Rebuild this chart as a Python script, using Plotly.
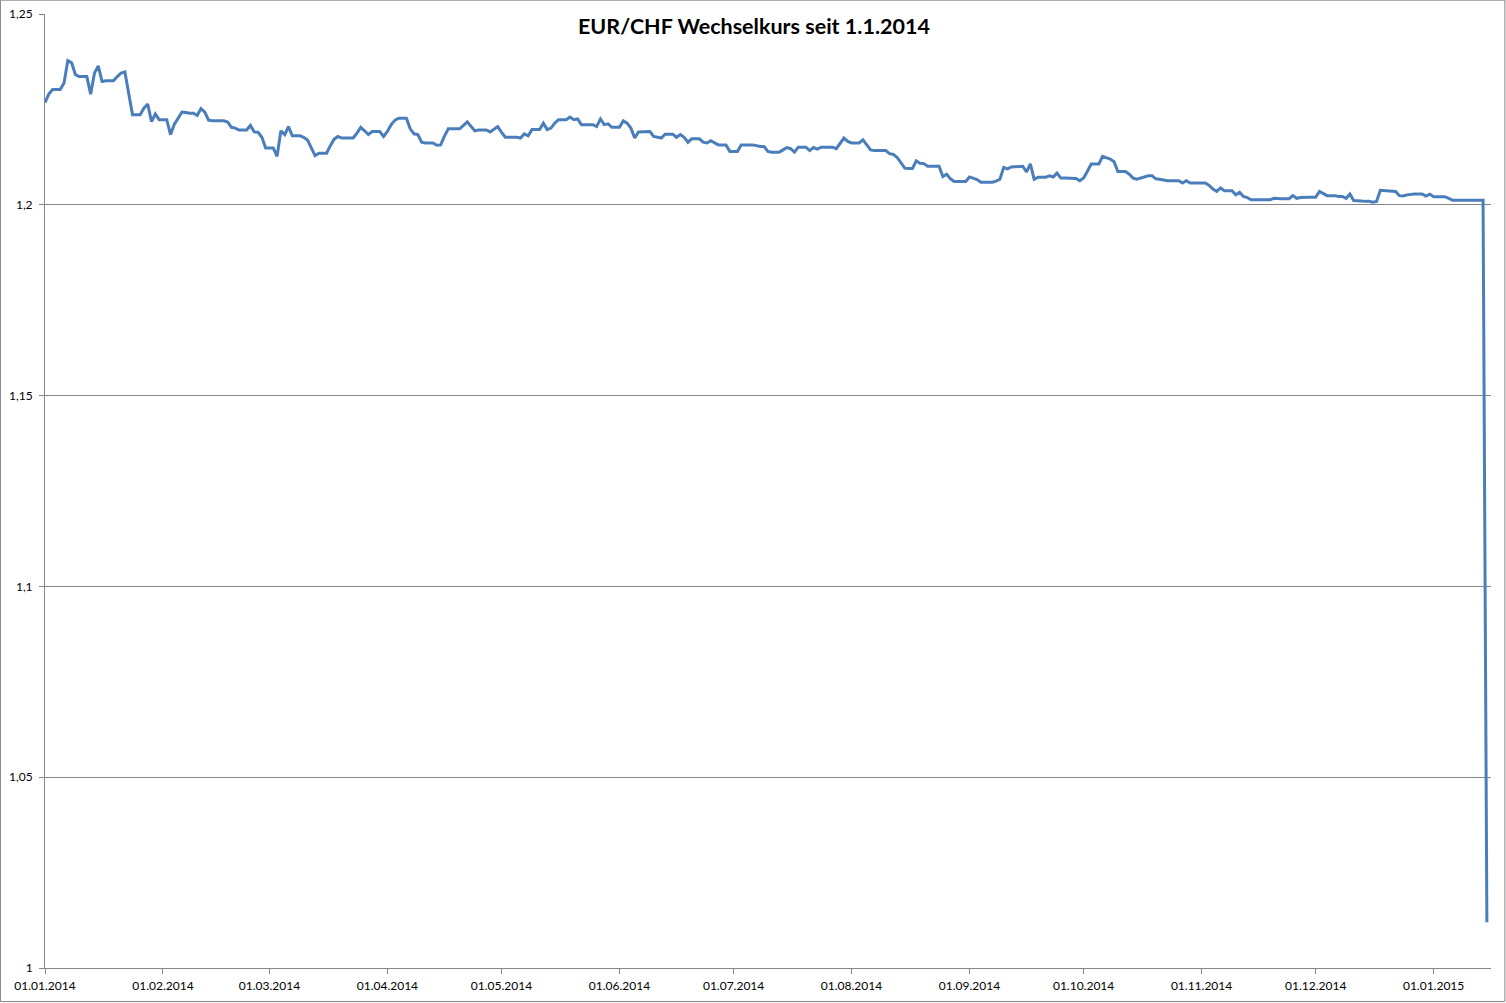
import pandas as pd
import plotly.graph_objects as go

title_text = "EUR/CHF Wechselkurs seit 1.1.2014"
start_date = "2014-01-01"

# daily EUR/CHF values from 01.01.2014 to 15.01.2015
eurchf = [
    1.2268, 1.2290, 1.2302, 1.2302, 1.2302, 1.2319, 1.2378, 1.2372, 1.2341, 1.2336,
    1.2336, 1.2336, 1.2290, 1.2345, 1.2364, 1.2323, 1.2325, 1.2325, 1.2325, 1.2336,
    1.2345, 1.2348, 1.2292, 1.2236, 1.2236, 1.2236, 1.2253, 1.2264, 1.2218, 1.2238,
    1.2223, 1.2223, 1.2223, 1.2184, 1.2211, 1.2227, 1.2243, 1.2242, 1.2240, 1.2240,
    1.2234, 1.2252, 1.2243, 1.2222, 1.2220, 1.2220, 1.2220, 1.2220, 1.2217, 1.2203,
    1.2201, 1.2196, 1.2196, 1.2196, 1.2208, 1.2191, 1.2190, 1.2177, 1.2149, 1.2149,
    1.2149, 1.2127, 1.2194, 1.2184, 1.2205, 1.2181, 1.2181, 1.2181, 1.2177, 1.2170,
    1.2149, 1.2129, 1.2135, 1.2135, 1.2135, 1.2155, 1.2172, 1.2179, 1.2175, 1.2175,
    1.2175, 1.2175, 1.2188, 1.2203, 1.2194, 1.2184, 1.2192, 1.2192, 1.2192, 1.2179,
    1.2192, 1.2210, 1.2222, 1.2227, 1.2227, 1.2227, 1.2199, 1.2186, 1.2184, 1.2164,
    1.2162, 1.2162, 1.2162, 1.2156, 1.2157, 1.2180, 1.2199, 1.2199, 1.2199, 1.2199,
    1.2208, 1.2217, 1.2205, 1.2194, 1.2196, 1.2196, 1.2196, 1.2191, 1.2198, 1.2205,
    1.2190, 1.2177, 1.2177, 1.2177, 1.2177, 1.2175, 1.2186, 1.2181, 1.2197, 1.2197,
    1.2197, 1.2214, 1.2197, 1.2201, 1.2214, 1.2223, 1.2223, 1.2223, 1.2230, 1.2223,
    1.2225, 1.2210, 1.2210, 1.2210, 1.2210, 1.2205, 1.2225, 1.2210, 1.2212, 1.2203,
    1.2203, 1.2203, 1.2220, 1.2214, 1.2201, 1.2175, 1.2191, 1.2191, 1.2191, 1.2192,
    1.2179, 1.2177, 1.2175, 1.2185, 1.2185, 1.2185, 1.2177, 1.2184, 1.2177, 1.2164,
    1.2173, 1.2173, 1.2173, 1.2164, 1.2162, 1.2168, 1.2162, 1.2157, 1.2157, 1.2157,
    1.2140, 1.2140, 1.2140, 1.2157, 1.2157, 1.2157, 1.2157, 1.2155, 1.2153, 1.2153,
    1.2140, 1.2138, 1.2138, 1.2138, 1.2144, 1.2150, 1.2147, 1.2138, 1.2151, 1.2151,
    1.2151, 1.2142, 1.2150, 1.2146, 1.2151, 1.2151, 1.2151, 1.2151, 1.2147, 1.2162,
    1.2175, 1.2166, 1.2162, 1.2162, 1.2162, 1.2170, 1.2158, 1.2144, 1.2142, 1.2142,
    1.2142, 1.2142, 1.2134, 1.2132, 1.2124, 1.2110, 1.2096, 1.2095, 1.2095, 1.2115,
    1.2109, 1.2108, 1.2101, 1.2101, 1.2101, 1.2101, 1.2074, 1.2080, 1.2068, 1.2061,
    1.2061, 1.2061, 1.2061, 1.2073, 1.2070, 1.2066, 1.2059, 1.2059, 1.2059, 1.2059,
    1.2062, 1.2067, 1.2098, 1.2094, 1.2099, 1.2100, 1.2100, 1.2101, 1.2086, 1.2107,
    1.2067, 1.2072, 1.2072, 1.2072, 1.2076, 1.2073, 1.2083, 1.2070, 1.2070, 1.2070,
    1.2070, 1.2069, 1.2063, 1.2070, 1.2088, 1.2107, 1.2107, 1.2107, 1.2127, 1.2124,
    1.2120, 1.2113, 1.2087, 1.2087, 1.2087, 1.2080, 1.2070, 1.2067, 1.2070, 1.2075,
    1.2076, 1.2076, 1.2068, 1.2067, 1.2064, 1.2063, 1.2063, 1.2063, 1.2063, 1.2057,
    1.2063, 1.2057, 1.2057, 1.2057, 1.2057, 1.2057, 1.2051, 1.2041, 1.2035, 1.2044,
    1.2037, 1.2037, 1.2037, 1.2026, 1.2033, 1.2022, 1.2019, 1.2013, 1.2013, 1.2013,
    1.2013, 1.2013, 1.2013, 1.2017, 1.2016, 1.2016, 1.2016, 1.2016, 1.2024, 1.2017,
    1.2019, 1.2020, 1.2020, 1.2020, 1.2020, 1.2035, 1.2030, 1.2024, 1.2024, 1.2024,
    1.2022, 1.2022, 1.2017, 1.2028, 1.2011, 1.2011, 1.2010, 1.2009, 1.2009, 1.2007,
    1.2009, 1.2038, 1.2037, 1.2037, 1.2035, 1.2035, 1.2024, 1.2023, 1.2026, 1.2028,
    1.2028, 1.2028, 1.2028, 1.2023, 1.2028, 1.2021, 1.2021, 1.2021, 1.2021, 1.2017,
    1.2012, 1.2012, 1.2012, 1.2012, 1.2012, 1.2012, 1.2012, 1.2012, 1.2012, 1.0120,
]
dates = pd.date_range(start_date, periods=len(eurchf), freq="D")

x_tickvals = ["2014-01-01", "2014-02-01", "2014-03-01", "2014-04-01", "2014-05-01",
              "2014-06-01", "2014-07-01", "2014-08-01", "2014-09-01", "2014-10-01",
              "2014-11-01", "2014-12-01", "2015-01-01"]
x_ticktext = ["01.01.2014", "01.02.2014", "01.03.2014", "01.04.2014", "01.05.2014",
              "01.06.2014", "01.07.2014", "01.08.2014", "01.09.2014", "01.10.2014",
              "01.11.2014", "01.12.2014", "01.01.2015"]
y_tickvals = [1.0, 1.05, 1.1, 1.15, 1.2, 1.25]
y_ticktext = ["1", "1,05", "1,1", "1,15", "1,2", "1,25"]

FONT = "Lato, Open Sans, sans-serif"
GRID = "#868686"

fig = go.Figure()
fig.add_trace(go.Scatter(
    x=dates, y=eurchf, mode="lines",
    line=dict(color="#4a7ebb", width=3),
    showlegend=False, hoverinfo="x+y",
))

fig.update_layout(
    template="none",
    width=1506, height=1003,
    margin=dict(l=45, r=15, t=14, b=35, pad=0, autoexpand=False),
    paper_bgcolor="white", plot_bgcolor="white",
    font=dict(family=FONT, color="black", size=12),
    xaxis=dict(
        type="date", automargin=False,
        range=["2014-01-01", "2015-01-16 02:00"],
        tickvals=x_tickvals, ticktext=x_ticktext,
        ticks="outside", ticklen=5, tickcolor=GRID, tickwidth=1,
        ticklabelstandoff=2,
        showgrid=False, zeroline=False,
        showline=True, linecolor=GRID, linewidth=1,
        tickfont=dict(family=FONT, size=12, color="black"),
    ),
    yaxis=dict(
        automargin=False,
        range=[1.0, 1.25],
        tickvals=y_tickvals, ticktext=y_ticktext,
        ticks="outside", ticklen=5, tickcolor=GRID, tickwidth=1,
        ticklabelstandoff=4,
        showgrid=True, gridcolor=GRID, gridwidth=1,
        zeroline=False,
        showline=True, linecolor=GRID, linewidth=1,
        tickfont=dict(family=FONT, size=12, color="black"),
    ),
    annotations=[dict(
        text="<b>" + title_text + "</b>",
        xref="paper", yref="paper", x=0.490, y=0.9877,
        xanchor="center", yanchor="middle", showarrow=False,
        font=dict(family=FONT, size=21.5, color="black"),
    )],
    shapes=[dict(
        type="rect", xref="paper", yref="paper",
        x0=-0.0308, x1=1.0096, y0=-0.0351, y1=1.0145,
        line=dict(color=GRID, width=1), fillcolor="rgba(0,0,0,0)",
        layer="below",
    )],
)

fig.write_html(
    "out.html",
    config={"displayModeBar": False},
    post_script="document.body.style.margin='0';document.body.style.overflow='hidden';",
)
